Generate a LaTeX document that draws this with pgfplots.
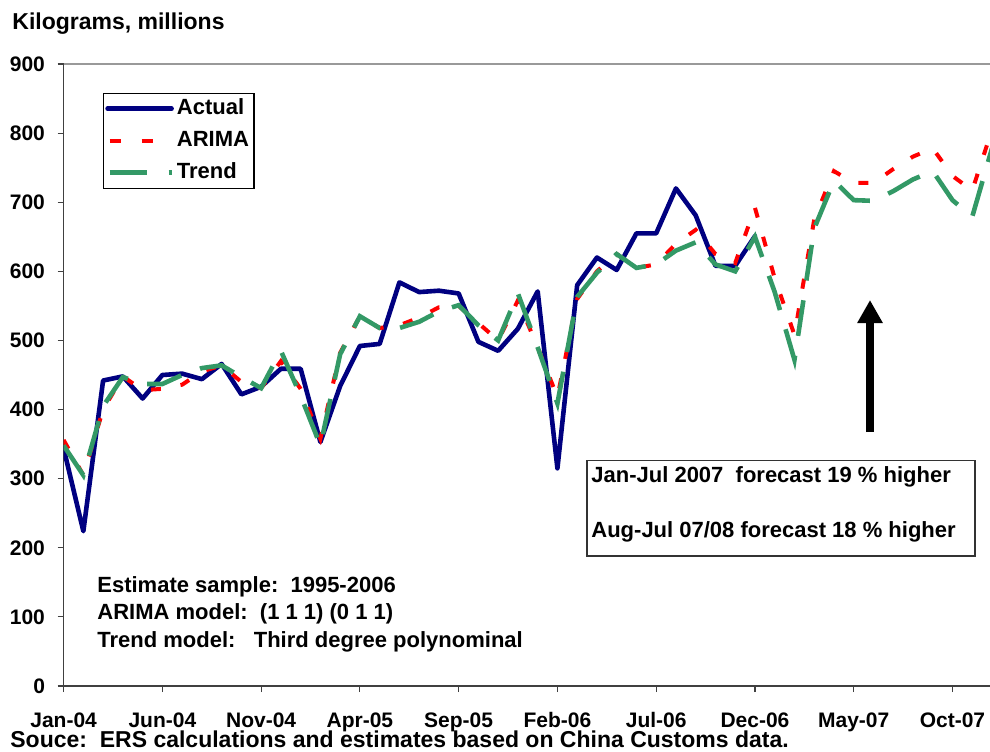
\documentclass[border=0pt]{standalone}
\usepackage{fontspec}
\setmainfont{Liberation Sans}
\usepackage{pgfplots}
\pgfplotsset{compat=1.18}
\usepackage{pgfplotstable}
\usetikzlibrary{arrows.meta}

\definecolor{actualblue}{RGB}{0,0,128}
\definecolor{arimared}{RGB}{255,0,0}
\definecolor{trendgreen}{RGB}{51,153,102}

% month index 0 = Jan-04
\pgfplotstableread{
m v
0 344
1 224
2 442
3 448
4 416
5 450
6 452
7 444
8 466
9 422
10 433
11 459
12 459
13 353
14 434
15 492
16 495
17 584
18 570
19 572
20 568
21 498
22 485
23 517
24 571
25 315
26 580
27 620
28 602
29 655
30 655
31 720
32 681
33 608
34 608
35 651
}\actual

\pgfplotstableread{
m v
0 356
1 305
2 400
3 448
4 428
5 430
6 436
7 455
8 464
9 440
10 431
11 470
12 430
13 358
14 482
15 535
16 518
17 522
18 533
19 548
20 550
21 525
22 500
23 558
24 490
25 418
26 560
27 600
28 625
29 605
30 610
31 640
32 660
33 625
34 612
35 692
36 590
37 508
38 675
39 745
40 728
41 728
42 748
43 766
44 778
45 738
46 717
47 805
}\arima

\pgfplotstableread{
m v
0 348
1 305
2 405
3 447
4 437
5 437
6 450
7 460
8 464
9 447
10 431
11 485
12 420
13 348
14 480
15 535
16 518
17 518
18 527
19 542
20 551
21 522
22 500
23 568
24 490
25 409
26 563
27 598
28 625
29 605
30 610
31 630
32 642
33 610
34 600
35 650
36 570
37 472
38 662
39 731
40 703
41 702
42 716
43 733
44 745
45 703
46 679
47 778
}\trend

\begin{document}
\begin{tikzpicture}[font=\fontsize{11}{13}\selectfont\bfseries]
\useasboundingbox (-31.8pt,-32.5pt) rectangle (463.2pt,343pt);
\begin{axis}[
    at={(0pt,0pt)}, anchor=south west,
    scale only axis, width=463.2pt, height=311pt,
    xmin=0, xmax=46.9, ymin=0, ymax=900,
    axis lines*=left,
    axis line style={black!75, line width=0.6pt},
    tick style={black!75, line width=0.6pt},
    tick align=outside, major tick length=3pt,
    xtick={0,5,...,45},
    xticklabels={Jan-04,Jun-04,Nov-04,Apr-05,Sep-05,Feb-06,Jul-06,Dec-06,May-07,Oct-07},
    ytick={0,100,...,900},
    /pgf/number format/assume math mode=true,
    tick label style={font=\fontsize{10.5}{12.6}\selectfont\bfseries},
    xticklabel style={yshift=-6.5pt, text height=7.5pt, text depth=0pt},
    yticklabel style={xshift=-2.8pt},
    legend cell align=left,
    legend style={at={(0.0422,0.9539)}, anchor=north west, draw=black,
        line width=0.6pt, inner xsep=1pt, inner ysep=1pt,
        row sep=2.5pt, font=\fontsize{11}{13}\selectfont\bfseries,
        nodes={inner sep=1.5pt, text height=8pt, text depth=2.5pt}},
    legend image code/.code={\draw[#1] (0pt,0pt) -- (32pt,0pt);},
  ]
  \addplot[actualblue, line width=2.3pt, line join=round, line cap=round] table[x=m,y=v] {\actual};
  \addplot[arimared, line width=2pt, dash pattern=on 5pt off 10pt,
    legend image post style={dash pattern=on 5.5pt off 10.5pt, dash phase=15pt}] table[x=m,y=v] {\arima};
  \addplot[trendgreen, line width=2.3pt, dash pattern=on 18pt off 10pt,
    legend image post style={dash pattern=on 18.5pt off 11pt, dash phase=28.5pt}] table[x=m,y=v] {\trend};
  \legend{Actual,ARIMA,Trend}
\end{axis}
% top border of the plot area
\draw[gray!80, line width=0.6pt] (0pt,311pt) -- (463.2pt,311pt);

\begin{scope}[every node/.style={inner sep=0pt, anchor=base west}]
\node[font=\fontsize{11.5}{13.5}\selectfont\bfseries] at (-25.8pt,328pt) {Kilograms, millions};
\node[font=\fontsize{11.5}{13.5}\selectfont\bfseries] at (-26.8pt,-30.5pt) {Souce:\ \ ERS calculations and estimates based on China Customs data.};

\node at (16.7pt,47pt) {Estimate sample:\ \ 1995-2006};
\node at (16.7pt,33.5pt) {ARIMA model:\ \ (1 1 1) (0 1 1)};
\node at (16.7pt,19.5pt) {Trend model:\ \ \ Third degree polynominal};
\end{scope}

\draw[black!80, line width=0.6pt, fill=white] (261.7pt,65pt) rectangle (455.7pt,112.6pt);
\begin{scope}[every node/.style={inner sep=0pt, anchor=base west}]
\node at (263.7pt,102pt) {Jan-Jul 2007\ \ forecast 19 \% higher};
\node at (263.7pt,74.5pt) {Aug-Jul 07/08 forecast 18 \% higher};
\end{scope}

\draw[line width=3.8pt, -{Triangle[length=11.5pt,width=12pt]}] (403.2pt,127pt) -- (403.2pt,193pt);
\end{tikzpicture}
\end{document}
